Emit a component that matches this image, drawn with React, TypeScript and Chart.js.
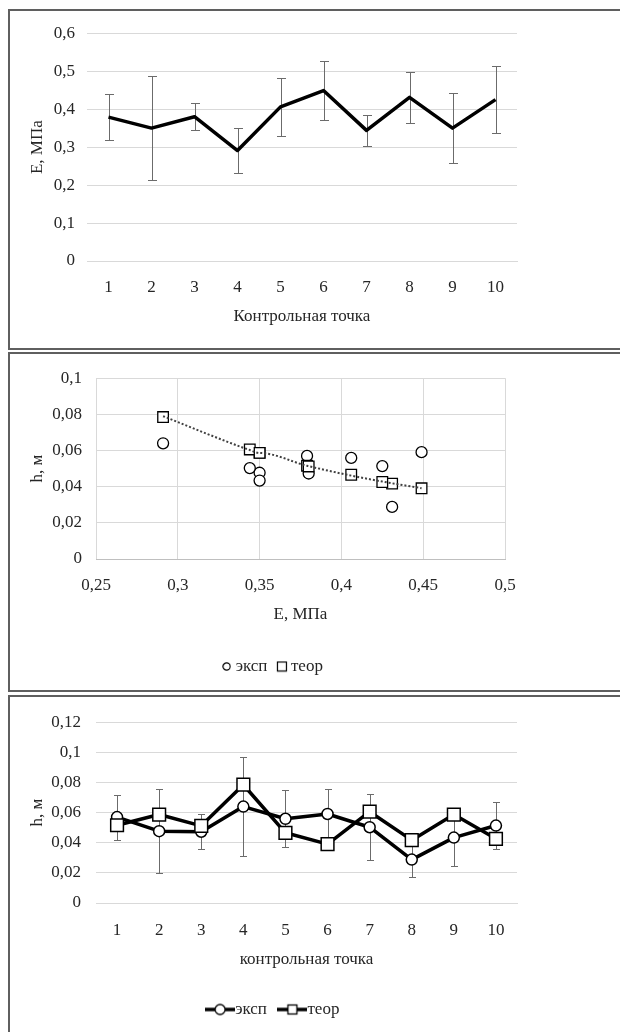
import React, { useEffect, useRef } from 'react';
import { Chart, registerables } from 'chart.js';

Chart.register(...registerables);

// ---------- data ----------
const POINTS = ['1', '2', '3', '4', '5', '6', '7', '8', '9', '10'];
const E_MEAN = [0.379, 0.35, 0.38, 0.291, 0.406, 0.449, 0.344, 0.431, 0.35, 0.425];
const E_ERR = [0.06, 0.137, 0.035, 0.058, 0.077, 0.077, 0.04, 0.067, 0.092, 0.088];
const H_EXP = [0.057, 0.0477, 0.0473, 0.064, 0.0559, 0.0591, 0.0503, 0.0288, 0.0434, 0.0514];
const H_EXP_ERR = [0.015, 0.028, 0.0115, 0.033, 0.019, 0.0165, 0.022, 0.0115, 0.019, 0.0155];
const H_TEOR = [0.0516, 0.0587, 0.0512, 0.0785, 0.0466, 0.0391, 0.0606, 0.0417, 0.0587, 0.0426];

const E_TICKS = [0, 0.1, 0.2, 0.3, 0.4, 0.5, 0.6];
const E_AXIS_TICKS = [0.25, 0.3, 0.35, 0.4, 0.45, 0.5];
const H_SCATTER_TICKS = [0, 0.02, 0.04, 0.06, 0.08, 0.1];
const H_TICKS = [0, 0.02, 0.04, 0.06, 0.08, 0.1, 0.12];

const T_E = 'Е, МПа';
const T_H = 'h, м';
const T_X1 = 'Контрольная точка';
const T_X3 = 'контрольная точка';
const L_EXP = 'эксп';
const L_TEOR = 'теор';

// ---------- styles ----------
const FONT = { family: "'Liberation Serif', 'Times New Roman', serif", size: 17 };
const TEXT = '#262626';
const GRID = '#d9d9d9';
const fmt = (v: number) => String(Number(Number(v).toFixed(3))).replace('.', ',');

function powerFit(xs: number[], ys: number[]) {
  const n = xs.length;
  let sx = 0, sy = 0, sxy = 0, sxx = 0;
  for (let i = 0; i < n; i++) {
    const lx = Math.log(xs[i]);
    const ly = Math.log(ys[i]);
    sx += lx; sy += ly; sxy += lx * ly; sxx += lx * lx;
  }
  const b = (n * sxy - sx * sy) / (n * sxx - sx * sx);
  const a = Math.exp((sy - b * sx) / n);
  return (x: number) => a * Math.pow(x, b);
}

function yAxis(ticks: number[], title: string, width: number, labelPad: number) {
  return {
    type: 'linear',
    position: 'left',
    min: ticks[0],
    max: ticks[ticks.length - 1],
    afterBuildTicks: (s: any) => { s.ticks = ticks.map((v) => ({ value: v })); },
    afterFit: (s: any) => { s.width = width; },
    grid: { color: GRID, lineWidth: 1, drawTicks: false },
    border: { display: false },
    ticks: { padding: labelPad, color: TEXT, font: FONT, callback: (v: any) => fmt(v) },
    title: { display: true, text: title, color: TEXT, font: FONT, padding: { top: 17, bottom: 0 } },
  };
}

function dummyRight(width: number) {
  return {
    type: 'linear',
    position: 'right',
    display: true,
    grid: { display: false, drawTicks: false },
    border: { display: false },
    ticks: { display: false },
    afterFit: (s: any) => { s.width = width; },
  };
}

function errorBars(id: string, dsIndex: number, errs: number[], color: string, cap: number) {
  return {
    id,
    beforeDatasetsDraw(chart: any) {
      const meta = chart.getDatasetMeta(dsIndex);
      const ys = chart.scales.y;
      const vals = chart.data.datasets[dsIndex].data as number[];
      const ctx = chart.ctx;
      ctx.save();
      ctx.strokeStyle = color;
      ctx.lineWidth = 1;
      meta.data.forEach((pt: any, i: number) => {
        const x = Math.round(pt.x) + 0.5;
        const top = Math.round(ys.getPixelForValue(vals[i] + errs[i])) + 0.5;
        const bot = Math.round(ys.getPixelForValue(vals[i] - errs[i])) + 0.5;
        ctx.beginPath();
        ctx.moveTo(x, top); ctx.lineTo(x, bot);
        ctx.moveTo(x - cap, top); ctx.lineTo(x + cap, top);
        ctx.moveTo(x - cap, bot); ctx.lineTo(x + cap, bot);
        ctx.stroke();
      });
      ctx.restore();
    },
  };
}

function makeIcon(w: number, h: number, draw: (ctx: CanvasRenderingContext2D) => void) {
  const c = document.createElement('canvas');
  c.width = w; c.height = h;
  const ctx = c.getContext('2d')!;
  draw(ctx);
  return c;
}

// ---------- charts ----------
function ChartE() {
  const ref = useRef<HTMLCanvasElement>(null);
  useEffect(() => {
    const chart = new Chart(ref.current!, {
      type: 'line',
      data: {
        labels: POINTS,
        datasets: [{
          label: T_E,
          data: E_MEAN,
          borderColor: '#000',
          borderWidth: 3.5,
          borderJoinStyle: 'round',
          pointRadius: 0,
          tension: 0,
          fill: false,
        }],
      },
      options: {
        responsive: false,
        animation: false,
        events: [],
        layout: { padding: { left: 0, top: 20, right: 17, bottom: 11 } },
        plugins: { legend: { display: false }, tooltip: { enabled: false } },
        scales: {
          x: {
            type: 'category',
            offset: true,
            grid: { display: false, drawTicks: false },
            border: { display: true, color: GRID, width: 1 },
            ticks: { padding: 16, color: TEXT, font: FONT, maxRotation: 0, autoSkip: false },
            title: { display: true, text: T_X1, color: TEXT, font: FONT, padding: { top: 0, bottom: 10 } },
            afterFit: (s: any) => { s.height = 76; },
          },
          y: yAxis(E_TICKS, T_E, 77, 12),
        },
      } as any,
      plugins: [errorBars('errE', 0, E_ERR, '#6b6b6b', 4.5)],
    } as any);
    return () => chart.destroy();
  }, []);
  return <canvas ref={ref} width={524} height={337} style={{ position: 'absolute', left: 0, top: 0, width: 524, height: 337, display: 'block' }} />;
}

function ChartScatter() {
  const ref = useRef<HTMLCanvasElement>(null);
  useEffect(() => {
    const fit = powerFit(E_MEAN, H_TEOR);
    const trendX = [...E_MEAN].sort((a, b) => a - b);
    const iconCircle = makeIcon(9, 9, (ctx) => {
      ctx.beginPath(); ctx.arc(4.5, 4.5, 3.6, 0, Math.PI * 2);
      ctx.fillStyle = '#fff'; ctx.fill();
      ctx.lineWidth = 1.2; ctx.strokeStyle = '#000'; ctx.stroke();
    });
    const iconSquare = makeIcon(12, 12, (ctx) => {
      ctx.fillStyle = '#fff'; ctx.fillRect(1, 1, 10, 10);
      ctx.lineWidth = 1.2; ctx.strokeStyle = '#000'; ctx.strokeRect(1.5, 1.5, 9, 9);
    });
    const icons = [iconCircle, iconSquare];
    const chart = new Chart(ref.current!, {
      type: 'scatter',
      data: {
        datasets: [
          {
            label: L_EXP,
            data: E_MEAN.map((e, i) => ({ x: e, y: H_EXP[i] })),
            pointStyle: 'circle',
            pointRadius: 5.5,
            pointBackgroundColor: '#fff',
            pointBorderColor: '#000',
            pointBorderWidth: 1.3,
            borderColor: '#000',
            backgroundColor: '#fff',
            order: 2,
          },
          {
            label: L_TEOR,
            data: E_MEAN.map((e, i) => ({ x: e, y: H_TEOR[i] })),
            pointStyle: 'rect',
            pointRadius: 7.5,
            pointBackgroundColor: '#fff',
            pointBorderColor: '#000',
            pointBorderWidth: 1.3,
            borderColor: '#000',
            backgroundColor: '#fff',
            order: 1,
          },
          {
            label: 'trend',
            data: trendX.map((x) => ({ x, y: fit(x) })),
            showLine: true,
            borderColor: '#404040',
            borderWidth: 2,
            borderDash: [2, 2],
            pointRadius: 0,
            cubicInterpolationMode: 'monotone',
            fill: false,
            order: 0,
          },
        ],
      },
      options: {
        responsive: false,
        animation: false,
        events: [],
        layout: { padding: { left: 0, top: 20, right: 0, bottom: 5 } },
        plugins: {
          tooltip: { enabled: false },
          legend: {
            display: true,
            position: 'bottom',
            labels: {
              usePointStyle: true,
              pointStyleWidth: 1,
              padding: 14,
              color: TEXT,
              font: FONT,
              filter: (it: any) => it.datasetIndex < 2,
              sort: (a: any, b: any) => a.datasetIndex - b.datasetIndex,
              generateLabels: (c: any) =>
                (Chart.defaults.plugins.legend.labels as any).generateLabels(c).map((it: any) => ({
                  ...it,
                  pointStyle: icons[it.datasetIndex] || it.pointStyle,
                })),
            },
          },
        },
        scales: {
          x: {
            type: 'linear',
            position: 'bottom',
            min: E_AXIS_TICKS[0],
            max: E_AXIS_TICKS[E_AXIS_TICKS.length - 1],
            afterBuildTicks: (s: any) => { s.ticks = E_AXIS_TICKS.map((v) => ({ value: v })); },
            grid: { color: GRID, lineWidth: 1, drawTicks: false },
            border: { display: true, color: '#bfbfbf', width: 1 },
            ticks: { padding: 16, color: TEXT, font: FONT, maxRotation: 0, callback: (v: any) => fmt(v) },
            title: { display: true, text: T_E, color: TEXT, font: FONT, padding: { top: 0, bottom: 19 } },
            afterFit: (s: any) => { s.height = 85; },
          },
          y: yAxis(H_SCATTER_TICKS, T_H, 86, 14),
          yr: dummyRight(34),
        },
      } as any,
    } as any);
    return () => chart.destroy();
  }, []);
  return <canvas ref={ref} width={529} height={336} style={{ position: 'absolute', left: 0, top: 0, width: 529, height: 336, display: 'block' }} />;
}

function ChartH() {
  const ref = useRef<HTMLCanvasElement>(null);
  useEffect(() => {
    const iconExp = makeIcon(30, 14, (ctx) => {
      ctx.strokeStyle = '#000'; ctx.lineWidth = 3.5;
      ctx.beginPath(); ctx.moveTo(0, 7); ctx.lineTo(30, 7); ctx.stroke();
      ctx.beginPath(); ctx.arc(15, 7, 5, 0, Math.PI * 2);
      ctx.fillStyle = '#fff'; ctx.fill();
      ctx.lineWidth = 1.3; ctx.stroke();
    });
    const iconTeor = makeIcon(30, 14, (ctx) => {
      ctx.strokeStyle = '#000'; ctx.lineWidth = 3.5;
      ctx.beginPath(); ctx.moveTo(0, 7); ctx.lineTo(30, 7); ctx.stroke();
      ctx.fillStyle = '#fff'; ctx.fillRect(10, 2, 10, 10);
      ctx.lineWidth = 1.3; ctx.strokeRect(10.5, 2.5, 9, 9);
    });
    const icons = [iconExp, iconTeor];
    const chart = new Chart(ref.current!, {
      type: 'line',
      data: {
        labels: POINTS,
        datasets: [
          {
            label: L_EXP,
            data: H_EXP,
            borderColor: '#000',
            backgroundColor: '#fff',
            borderWidth: 3.5,
            borderJoinStyle: 'round',
            pointStyle: 'circle',
            pointRadius: 5.5,
            pointBackgroundColor: '#fff',
            pointBorderColor: '#000',
            pointBorderWidth: 1.5,
            tension: 0,
            fill: false,
            order: 1,
          },
          {
            label: L_TEOR,
            data: H_TEOR,
            borderColor: '#000',
            backgroundColor: '#fff',
            borderWidth: 3.5,
            borderJoinStyle: 'round',
            pointStyle: 'rect',
            pointRadius: 9,
            pointBackgroundColor: '#fff',
            pointBorderColor: '#000',
            pointBorderWidth: 1.5,
            tension: 0,
            fill: false,
            order: 0,
          },
        ],
      },
      options: {
        responsive: false,
        animation: false,
        events: [],
        layout: { padding: { left: 0, top: 20, right: 0, bottom: 4 } },
        plugins: {
          tooltip: { enabled: false },
          legend: {
            display: true,
            position: 'bottom',
            labels: {
              usePointStyle: true,
              pointStyleWidth: 13,
              padding: 19,
              color: TEXT,
              font: FONT,
              sort: (a: any, b: any) => a.datasetIndex - b.datasetIndex,
              generateLabels: (c: any) =>
                (Chart.defaults.plugins.legend.labels as any).generateLabels(c).map((it: any) => ({
                  ...it,
                  pointStyle: icons[it.datasetIndex] || it.pointStyle,
                })),
            },
          },
        },
        scales: {
          x: {
            type: 'category',
            offset: true,
            grid: { display: false, drawTicks: false },
            border: { display: true, color: GRID, width: 1 },
            ticks: { padding: 17, color: TEXT, font: FONT, maxRotation: 0, autoSkip: false },
            title: { display: true, text: T_X3, color: TEXT, font: FONT, padding: { top: 0, bottom: 12 } },
            afterFit: (s: any) => { s.height = 79; },
          },
          y: yAxis(H_TICKS, T_H, 86, 15),
          yr: dummyRight(26),
        },
      } as any,
      plugins: [errorBars('errH', 0, H_EXP_ERR, '#6b6b6b', 3.5)],
    } as any);
    return () => chart.destroy();
  }, []);
  return <canvas ref={ref} width={533} height={335} style={{ position: 'absolute', left: 0, top: 0, width: 533, height: 335, display: 'block' }} />;
}

function Panel({ top, height, children }: { top: number; height: number; children: React.ReactNode }) {
  return (
    <div
      style={{
        position: 'absolute',
        left: 8,
        top,
        width: 700,
        height,
        border: '2px solid #5f5f5f',
        boxSizing: 'border-box',
        background: '#fff',
      }}
    >
      {children}
    </div>
  );
}

export default function App() {
  return (
    <div style={{ position: 'fixed', left: 0, top: 0, width: 620, height: 1032, overflow: 'hidden', background: '#fff' }}>
      <Panel top={9} height={341}><ChartE /></Panel>
      <Panel top={352} height={340}><ChartScatter /></Panel>
      <Panel top={695} height={400}><ChartH /></Panel>
    </div>
  );
}
